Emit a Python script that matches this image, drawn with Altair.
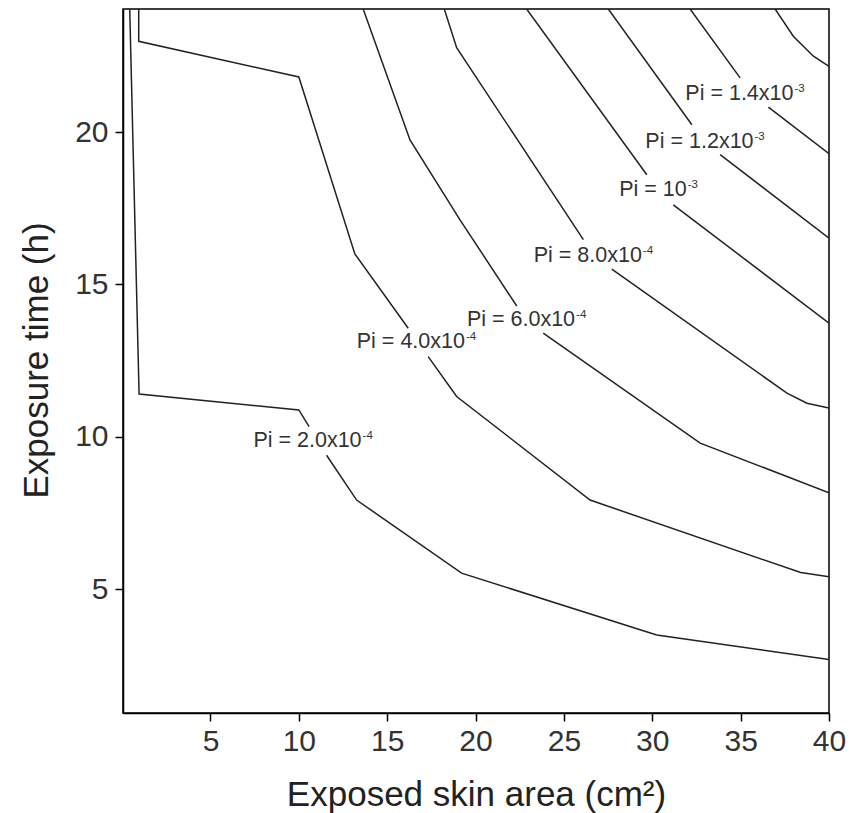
import altair as alt
import pandas as pd

# ---- contour data (exposed skin area x, exposure time y); each contour is split where its label sits
c2e4_a_x = [0.43, 0.96, 10.0, 10.58]
c2e4_a_y = [24.04, 11.40, 10.88, 10.33]
c2e4_b_x = [11.57, 13.27, 19.21, 30.25, 40.0]
c2e4_b_y = [9.39, 7.92, 5.52, 3.49, 2.69]

c4e4_a_x = [0.94, 0.94, 10.0, 13.17, 16.19]
c4e4_a_y = [24.04, 22.98, 21.81, 16.0, 13.56]
c4e4_b_x = [17.32, 18.93, 26.48, 38.4, 40.0]
c4e4_b_y = [12.63, 11.32, 7.92, 5.54, 5.40]

c6e4_a_x = [13.64, 16.29, 19.12, 22.33]
c6e4_a_y = [24.04, 19.74, 17.12, 14.29]
c6e4_b_x = [23.83, 32.71, 40.0]
c6e4_b_y = [13.40, 9.79, 8.16]

c8e4_a_x = [18.23, 18.93, 26.10]
c8e4_a_y = [24.04, 22.77, 16.47]
c8e4_b_x = [27.71, 37.62, 38.75, 40.0]
c8e4_b_y = [15.50, 11.43, 11.10, 10.94]

c1e3_a_x = [22.89, 29.69]
c1e3_a_y = [24.04, 18.60]
c1e3_b_x = [31.19, 40.0]
c1e3_b_y = [17.61, 13.73]

c12e3_a_x = [27.51, 32.24]
c12e3_a_y = [24.04, 20.24]
c12e3_b_x = [33.84, 40.0]
c12e3_b_y = [19.26, 16.52]

c14e3_a_x = [32.14, 34.97]
c14e3_a_y = [24.04, 21.78]
c14e3_b_x = [36.57, 40.0]
c14e3_b_y = [20.82, 19.29]

c16e3_x = [36.95, 37.99, 39.12, 40.0]
c16e3_y = [24.04, 23.14, 22.49, 22.16]

# ---- contour labels (anchor = end of the "10" text)
lab_text = ["Pi = 2.0x10", "Pi = 4.0x10", "Pi = 6.0x10", "Pi = 8.0x10",
            "Pi = 10", "Pi = 1.2x10", "Pi = 1.4x10"]
lab_sup = ["-4", "-4", "-4", "-4", "-3", "-3", "-3"]
lab_x = [13.55, 19.40, 25.63, 29.41, 31.95, 35.73, 37.99]
lab_y = [9.66, 12.91, 13.62, 15.75, 17.89, 19.48, 21.06]

x_ticks = [5, 10, 15, 20, 25, 30, 35, 40]
y_ticks = [5, 10, 15, 20]

segments = {
    "2e-4 a": (c2e4_a_x, c2e4_a_y), "2e-4 b": (c2e4_b_x, c2e4_b_y),
    "4e-4 a": (c4e4_a_x, c4e4_a_y), "4e-4 b": (c4e4_b_x, c4e4_b_y),
    "6e-4 a": (c6e4_a_x, c6e4_a_y), "6e-4 b": (c6e4_b_x, c6e4_b_y),
    "8e-4 a": (c8e4_a_x, c8e4_a_y), "8e-4 b": (c8e4_b_x, c8e4_b_y),
    "1e-3 a": (c1e3_a_x, c1e3_a_y), "1e-3 b": (c1e3_b_x, c1e3_b_y),
    "1.2e-3 a": (c12e3_a_x, c12e3_a_y), "1.2e-3 b": (c12e3_b_x, c12e3_b_y),
    "1.4e-3 a": (c14e3_a_x, c14e3_a_y), "1.4e-3 b": (c14e3_b_x, c14e3_b_y),
    "1.6e-3": (c16e3_x, c16e3_y),
}
rows = []
for name, (xs, ys) in segments.items():
    for i, (xv, yv) in enumerate(zip(xs, ys)):
        rows.append({"x": xv, "y": yv, "seg": name, "ord": i})
lines_df = pd.DataFrame(rows)
labels_df = pd.DataFrame({"x": lab_x, "y": lab_y, "t": lab_text, "s": lab_sup})

FONT = "Liberation Sans"

xscale = alt.Scale(domain=[0.05, 40], nice=False, zero=False)
yscale = alt.Scale(domain=[0.93, 24.04], nice=False, zero=False)

xaxis = alt.Axis(values=x_ticks, title="Exposed skin area (cm²)", grid=False,
                 tickSize=8, tickWidth=1.5, tickColor="black",
                 domainColor="black", domainWidth=1.5,
                 labelFontSize=30, labelFont=FONT, labelColor="#333", labelPadding=5,
                 labelFlush=False, labelOverlap=False,
                 titleFontSize=35, titleFont=FONT, titleFontWeight="normal", titleColor="#222",
                 titleBaseline="alphabetic", titleY=92)
yaxis = alt.Axis(values=y_ticks, title="Exposure time (h)", grid=False,
                 tickSize=8, tickWidth=1.5, tickColor="black",
                 domainColor="black", domainWidth=1.5,
                 labelFontSize=30, labelFont=FONT, labelColor="#333", labelPadding=7,
                 labelFlush=False, labelOverlap=False,
                 titleFontSize=35, titleFont=FONT, titleFontWeight="normal", titleColor="#222",
                 titleBaseline="alphabetic", titleX=-76, titleY=351, titleAngle=270)

lines = alt.Chart(lines_df).mark_line(color="#222", strokeWidth=1.5, clip=True).encode(
    x=alt.X("x:Q", scale=xscale, axis=xaxis),
    y=alt.Y("y:Q", scale=yscale, axis=yaxis),
    detail="seg:N",
    order="ord:Q",
)

main_txt = alt.Chart(labels_df).mark_text(
    align="right", baseline="alphabetic", fontSize=21.5, font=FONT, color="#333"
).encode(x=alt.X("x:Q", scale=xscale), y=alt.Y("y:Q", scale=yscale), text="t:N")

sup_txt = alt.Chart(labels_df).mark_text(
    align="left", baseline="alphabetic", fontSize=11.5, font=FONT, color="#333", dx=1, dy=-8
).encode(x=alt.X("x:Q", scale=xscale), y=alt.Y("y:Q", scale=yscale), text="s:N")

chart = alt.layer(lines, main_txt, sup_txt).properties(
    width=706, height=704,
    autosize=alt.AutoSizeParams(type="none"),
    padding={"left": 123, "top": 9, "right": 34, "bottom": 100},
    background="white",
).configure_view(stroke="black", strokeWidth=1.5)

chart.save("out.html", embed_options={"renderer": "svg", "actions": False})
